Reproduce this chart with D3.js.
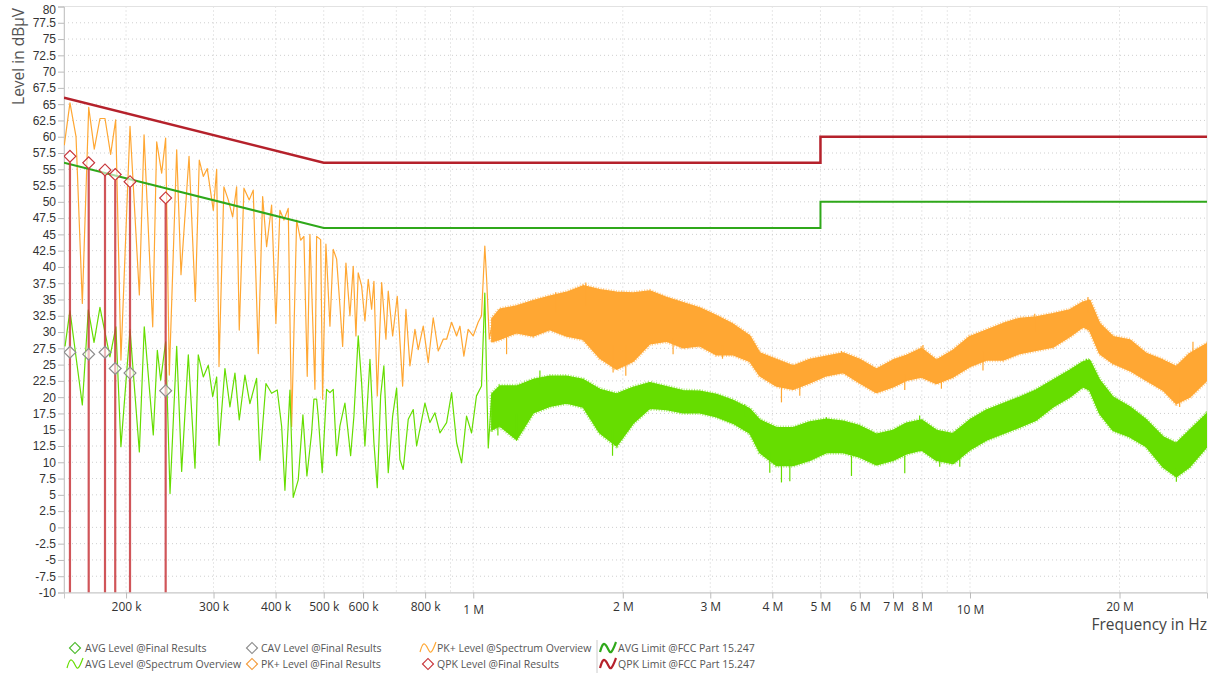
<!DOCTYPE html>
<html>
<head>
<meta charset="utf-8">
<script src="https://cdn.jsdelivr.net/npm/d3@7/dist/d3.min.js"></script>
<style>
body { margin: 0; background: #fff; }
.chart text { font-family: "Open Sans", sans-serif; }
.tick line { stroke: #bbb; }
.domain { stroke: #c8c8c8; }
</style>
</head>
<body>
<div class="chart"></div>
<script>
// ---- data (frequency in kHz, level in dBuV) ----

// tick / grid values
var xTickValues = [200, 300, 400, 500, 600, 800, 1000, 2000, 3000, 4000, 5000, 6000, 7000, 8000, 10000, 20000];
var xGridValues = [200, 300, 400, 500, 600, 700, 800, 900, 1000, 2000, 3000, 4000, 5000, 6000, 7000, 8000, 9000, 10000, 20000];
var yTickValues = d3.range(-10, 80.01, 2.5);

// limits FCC Part 15.247
var limitFreq = [150, 500, 5000, 5000, 30000];
var qpkLimit = [66, 56, 56, 60, 60];
var avgLimit = [56, 46, 46, 50, 50];

// PK+ spectrum overview, low frequency part (single trace)
var pkLineFreq = [150.2, 154.2, 158.6, 163.3, 168.2, 172.6, 177.2, 181.4, 186.2, 190.6, 195.3, 203.7, 212.7, 217.4, 226.3, 230.5, 235.9, 240.3, 244.4, 252.9,
  258.0, 267.8, 275.7, 280.8, 286.1, 291.4, 299.7, 304.4, 307.7, 314.8, 321.2, 327.8, 333.9, 338.0, 345.4, 354.0, 360.6, 369.1, 376.7, 383.7,
  392.7, 400.6, 408.1, 415.8, 424.1, 430.9, 441.0, 449.2, 456.1, 463.2, 469.0, 480.0, 483.8, 492.9, 497.4, 505.1, 514.6, 522.5, 530.8, 539.0,
  545.8, 554.2, 564.6, 573.3, 580.5, 586.7, 596.0, 605.2, 614.6, 624.3, 631.0, 640.8, 654.0, 667.1, 674.3, 688.2, 703.0, 714.2, 720.8, 731.9,
  745.6, 763.1, 774.8, 793.0, 811.6, 830.6, 850.1, 870.0, 883.8, 904.5, 925.7, 940.0, 957.4, 976.6, 999.5, 1023, 1039, 1055, 1064, 1077,
  1090];
var pkLineLevel = [58.7, 65.2, 60.0, 34.4, 64.5, 58.1, 62.8, 62.8, 57.3, 62.6, 25.7, 61.6, 35.7, 60.3, 30.8, 59.2, 54.4, 59.8, 23.4, 58.0,
  38.8, 57.0, 34.7, 56.4, 53.9, 55.1, 48.7, 55.0, 24.7, 52.3, 50.3, 47.7, 52.3, 30.3, 52.1, 50.3, 51.8, 26.7, 50.8, 43.1,
  49.5, 31.3, 48.7, 47.2, 49.0, 15.5, 47.2, 44.1, 44.7, 23.2, 45.0, 21.2, 44.7, 44.2, 19.7, 43.5, 30.9, 42.7, 41.2, 34.0,
  27.8, 40.6, 32.5, 40.1, 29.4, 39.1, 37.1, 31.7, 38.1, 33.5, 37.8, 20.2, 37.6, 28.9, 36.3, 29.4, 35.5, 26.8, 21.7, 33.5,
  24.8, 30.4, 27.3, 30.9, 25.3, 32.2, 27.1, 28.9, 28.9, 31.5, 29.4, 30.9, 26.3, 30.4, 29.4, 31.5, 32.5, 43.2, 38.1, 28.9,
  31.0];

// AVG spectrum overview, low frequency part (single trace)
var avgLineFreq = [150.7, 154.2, 163.3, 167.9, 172.4, 177.2, 185.6, 190.8, 195.3, 203.7, 212.7, 217.6, 226.9, 231.2, 234.8, 240.3, 245.2, 252.9, 258.8, 266.9,
  275.3, 279.5, 286.1, 292.8, 298.8, 304.4, 307.7, 316.3, 323.7, 331.3, 338.0, 347.0, 355.1, 366.3, 372.0, 382.5, 392.7, 403.1, 411.4, 417.7,
  427.5, 434.1, 444.3, 454.0, 462.5, 472.7, 477.8, 483.8, 487.4, 496.5, 506.7, 514.6, 522.5, 530.8, 539.0, 551.6, 566.4, 575.1, 586.7, 596.0,
  605.2, 619.5, 631.0, 640.8, 650.9, 660.8, 674.3, 688.2, 701.0, 711.8, 722.8, 739.8, 757.1, 769.1, 799.3, 818.0, 837.2, 856.8, 883.8, 904.5,
  925.7, 947.4, 969.4, 992.2, 1015, 1039, 1055, 1064, 1072, 1089];
var avgLineLevel = [27.8, 33.3, 18.8, 33.4, 28.4, 33.8, 26.2, 30.8, 12.4, 30.4, 11.6, 30.8, 14.2, 27.2, 22.6, 28.5, 5.2, 27.8, 8.6, 26.5,
  9.1, 26.5, 23.1, 24.9, 20.1, 23.1, 12.6, 24.4, 18.5, 23.7, 16.5, 23.4, 19.0, 22.9, 10.3, 22.1, 20.6, 21.1, 15.5, 5.7,
  21.1, 4.6, 7.3, 17.3, 7.9, 14.5, 19.7, 19.7, 17.1, 8.4, 21.2, 20.7, 21.2, 11.0, 15.6, 19.1, 11.0, 17.1, 29.4, 22.2,
  12.5, 25.8, 13.0, 6.1, 20.2, 24.8, 8.4, 17.1, 21.4, 10.4, 8.9, 16.6, 18.1, 12.5, 19.1, 16.1, 17.6, 14.5, 16.1, 20.7,
  13.0, 9.9, 17.1, 14.5, 20.2, 21.7, 36.0, 22.7, 12.2, 20.2];

// dense part of both overviews, read as upper / lower envelope
var bandFreq = [1090, 1131, 1222, 1320, 1426, 1541, 1664, 1798, 1943, 2098, 2267, 2449, 2645, 2858, 3088, 3335, 3603, 3774, 4078, 4404, 4758,
  5140, 5553, 5998, 6481, 7001, 7448, 7983, 8559, 9244, 9987, 10790, 11650, 12590, 13600, 14690, 15870, 16880, 17410, 18240, 19400,
  20970, 22650, 24460, 26030, 27680, 30000];
var pkBandHigh = [32.0, 33.5, 34.0, 34.8, 35.5, 36.1, 37.1, 36.5, 36.1, 36.0, 36.3, 35.3, 34.5, 33.7, 32.5, 31.2, 29.4, 26.8, 25.8, 24.8, 25.8,
  26.3, 26.8, 25.8, 24.3, 25.7, 26.4, 27.5, 25.7, 27.2, 29.3, 30.3, 31.3, 32.1, 32.3, 32.8, 33.4, 34.6, 34.9, 31.3, 29.3,
  28.8, 26.7, 25.7, 24.7, 26.7, 28.2];
var pkBandLow = [28.5, 28.9, 29.9, 29.4, 30.4, 29.4, 28.9, 26.0, 24.3, 25.5, 28.2, 28.6, 27.6, 27.9, 26.5, 26.5, 25.5, 23.3, 21.7, 21.2, 22.2,
  23.3, 23.8, 22.2, 20.7, 21.6, 22.6, 23.1, 22.1, 23.1, 24.7, 25.7, 25.7, 26.7, 27.2, 27.7, 29.3, 30.8, 30.3, 26.7, 25.2,
  24.1, 22.6, 21.1, 19.0, 20.0, 22.6];
var avgBandHigh = [20.5, 21.7, 21.7, 22.7, 23.2, 23.2, 22.7, 21.2, 20.5, 21.5, 22.2, 21.6, 21.0, 20.9, 20.4, 19.5, 18.2, 16.5, 15.3, 15.3, 16.2,
  16.6, 16.3, 15.6, 14.3, 14.9, 16.0, 16.5, 14.9, 14.4, 16.5, 18.0, 19.0, 20.0, 21.1, 22.6, 24.1, 25.4, 25.7, 22.6, 20.0,
  18.5, 16.5, 13.9, 12.9, 14.9, 17.5];
var avgBandLow = [15.0, 15.6, 13.5, 17.6, 18.6, 19.1, 18.5, 14.5, 12.5, 16.0, 18.3, 18.1, 17.6, 17.6, 17.0, 16.0, 14.5, 11.5, 9.5, 9.5, 10.3,
  11.5, 11.5, 10.8, 9.6, 10.3, 11.3, 11.9, 10.3, 9.8, 11.9, 13.4, 14.4, 15.4, 16.5, 18.5, 20.0, 21.6, 21.1, 17.5, 14.9,
  13.9, 12.4, 9.3, 7.8, 9.3, 12.4];

// single spikes sticking out of the dense part (start level -> tip level)
var pkSpikeFreq = [1167, 1466, 1685, 1912, 2028, 2525, 3175, 4173, 4543, 5512, 7390, 8042, 8759, 10620, 13500, 17280, 26430, 28110];
var pkSpikeBase = [29.5, 33.0, 34.0, 28.0, 28.0, 29.0, 28.0, 22.5, 22.5, 25.0, 23.5, 26.0, 24.0, 27.0, 30.0, 33.0, 21.5, 26.0];
var pkSpikeTip = [26.6, 36.1, 37.6, 23.8, 23.3, 26.6, 25.9, 19.2, 20.2, 27.1, 21.1, 28.0, 21.3, 24.1, 32.8, 35.4, 18.5, 28.5];
var avgSpikeFreq = [1121, 1222, 1362, 1907, 3521, 3953, 4173, 4338, 5140, 5773, 7390, 7920, 8690, 9537, 17150, 26030];
var avgSpikeBase = [18.0, 17.5, 22.0, 15.0, 17.0, 11.5, 10.5, 10.5, 15.0, 11.0, 11.0, 15.5, 11.0, 11.5, 24.0, 9.0];
var avgSpikeTip = [14.1, 13.3, 24.1, 11.0, 18.9, 8.4, 6.9, 7.1, 16.9, 7.9, 8.3, 17.2, 9.3, 9.3, 25.9, 7.0];

// final results
var finalFreq = [154.2, 168.2, 181.4, 190.2, 203.7, 240.3];
var qpkFinal = [57.0, 56.0, 54.9, 54.2, 53.1, 50.6];
var cavFinal = [26.9, 26.6, 26.9, 24.4, 23.7, 21.0];

// legend
var legendCol1 = ["AVG Level @Final Results", "AVG Level @Spectrum Overview"];
var legendCol2 = ["CAV Level @Final Results", "PK+ Level @Final Results"];
var legendCol3 = ["PK+ Level @Spectrum Overview", "QPK Level @Final Results"];
var legendCol4 = ["AVG Limit @FCC Part 15.247", "QPK Limit @FCC Part 15.247"];

// ---- chart ----
var svgWidth = 1215;
var svgHeight = 677;
var margin = {top: 6.5, right: 8, bottom: 84.5, left: 64};
var width = svgWidth - margin.left - margin.right;
var height = svgHeight - margin.top - margin.bottom;

var colPK = "#ffa733", colAVG = "#66dd00", colQPKLim = "#b5212b", colAVGLim = "#2fa81a";
var colQPK = "#c8373c", colCAV = "#8c8c8c";

var svg = d3.select(".chart")
  .append("svg")
  .attr("width", svgWidth)
  .attr("height", svgHeight);

var chart = svg.append("g")
  .attr("transform", "translate(" + margin.left + "," + margin.top + ")");

var x = d3.scaleLog().domain([150, 30000]).range([0, width]);
var y = d3.scaleLinear().domain([-10, 80]).range([height, 0]);

// grid
chart.append("g").selectAll("line")
  .data(yTickValues)
  .enter().append("line")
  .attr("x1", 0).attr("x2", width)
  .attr("y1", function(d) { return y(d); })
  .attr("y2", function(d) { return y(d); })
  .attr("stroke", "#cfcfcf")
  .attr("stroke-dasharray", "1,3");

chart.append("g").selectAll("line")
  .data(xGridValues)
  .enter().append("line")
  .attr("y1", 0).attr("y2", height)
  .attr("x1", function(d) { return x(d); })
  .attr("x2", function(d) { return x(d); })
  .attr("stroke", "#cfcfcf")
  .attr("stroke-dasharray", "1,3");

chart.append("rect")
  .attr("width", width).attr("height", height)
  .attr("fill", "none").attr("stroke", "#e2e2e2");

// axes
var bottomAxis = d3.axisBottom(x)
  .tickValues(xTickValues)
  .tickSize(6)
  .tickPadding(4)
  .tickFormat(function(d) { return d < 1000 ? d + " k" : (d / 1000) + " M"; });

var gx = chart.append("g")
  .attr("transform", "translate(0," + height + ")")
  .call(bottomAxis);
gx.selectAll("text")
  .attr("font-size", 12)
  .attr("fill", "#333")
  .attr("dy", function(d) { return (d === 1000 || d === 10000) ? "0.95em" : "0.71em"; });

var leftAxis = d3.axisLeft(y)
  .tickValues(yTickValues)
  .tickSize(6)
  .tickPadding(2)
  .tickFormat(function(d) { return String(d); });

var gy = chart.append("g").call(leftAxis);
gy.selectAll("text")
  .style("font-family", "'Liberation Sans', Arial, sans-serif")
  .attr("font-size", 12)
  .attr("fill", "#333")
  .attr("dy", function(d) { return d === 80 ? "0.62em" : "0.32em"; });

// axis titles
svg.append("text")
  .attr("transform", "translate(24,8) rotate(-90)")
  .attr("text-anchor", "end")
  .attr("font-size", 15.5)
  .attr("fill", "#555")
  .text("Level in dBµV");

svg.append("text")
  .attr("x", margin.left + width)
  .attr("y", 630)
  .attr("text-anchor", "end")
  .attr("font-size", 15.5)
  .attr("fill", "#444")
  .text("Frequency in Hz");

// clip traces to plot
svg.append("defs").append("clipPath").attr("id", "plotclip")
  .append("rect").attr("width", width).attr("height", height);
var plot = chart.append("g").attr("clip-path", "url(#plotclip)");

var line = d3.line()
  .x(function(d) { return x(d.f); })
  .y(function(d) { return y(d.v); });

var area = d3.area()
  .x(function(d) { return x(d.f); })
  .y0(function(d) { return y(d.lo); })
  .y1(function(d) { return y(d.hi); });

function pairs(fs, vs) {
  return fs.map(function(f, i) { return {f: f, v: vs[i]}; });
}
function band(fs, hi, lo) {
  return fs.map(function(f, i) { return {f: f, hi: hi[i], lo: lo[i]}; });
}

function drawOverview(color, lineF, lineV, hi, lo, spF, spB, spT) {
  var g = plot.append("g");
  // comb-like halo so the dense noisy edges are not razor sharp
  g.append("path")
    .datum(band(bandFreq, hi, lo))
    .attr("d", area)
    .attr("fill", "none")
    .attr("stroke", color)
    .attr("stroke-opacity", 0.55)
    .attr("stroke-width", 4.5)
    .attr("stroke-dasharray", "1,1.6")
    .attr("stroke-linejoin", "round");
  g.append("path")
    .datum(band(bandFreq, hi, lo))
    .attr("d", area)
    .attr("fill", color)
    .attr("stroke", color)
    .attr("stroke-width", 1.5)
    .attr("stroke-linejoin", "round");
  g.selectAll(".spike")
    .data(spF.map(function(f, i) { return {f: f, b: spB[i], t: spT[i]}; }))
    .enter().append("line")
    .attr("x1", function(d) { return x(d.f); })
    .attr("x2", function(d) { return x(d.f); })
    .attr("y1", function(d) { return y(d.b); })
    .attr("y2", function(d) { return y(d.t); })
    .attr("stroke", color)
    .attr("stroke-width", 1.2);
  g.append("path")
    .datum(pairs(lineF, lineV))
    .attr("d", line)
    .attr("fill", "none")
    .attr("stroke", color)
    .attr("stroke-width", 1.2)
    .attr("stroke-linejoin", "round");
}

drawOverview(colPK, pkLineFreq, pkLineLevel, pkBandHigh, pkBandLow, pkSpikeFreq, pkSpikeBase, pkSpikeTip);
drawOverview(colAVG, avgLineFreq, avgLineLevel, avgBandHigh, avgBandLow, avgSpikeFreq, avgSpikeBase, avgSpikeTip);

// limits
plot.append("path")
  .datum(pairs(limitFreq, avgLimit))
  .attr("d", line)
  .attr("fill", "none")
  .attr("stroke", colAVGLim)
  .attr("stroke-width", 2);
plot.append("path")
  .datum(pairs(limitFreq, qpkLimit))
  .attr("d", line)
  .attr("fill", "none")
  .attr("stroke", colQPKLim)
  .attr("stroke-width", 2.5);

// final result stems
plot.selectAll(".stem")
  .data(pairs(finalFreq, qpkFinal))
  .enter().append("line")
  .attr("class", "stem")
  .attr("x1", function(d) { return x(d.f); })
  .attr("x2", function(d) { return x(d.f); })
  .attr("y1", function(d) { return y(d.v) + 6; })
  .attr("y2", height)
  .attr("stroke", colQPK)
  .attr("stroke-opacity", 0.85)
  .attr("stroke-width", 2.2);

var diamond = d3.symbol().type(d3.symbolSquare).size(70);

function markers(data, color) {
  plot.append("g").selectAll("path")
    .data(data)
    .enter().append("path")
    .attr("d", diamond)
    .attr("transform", function(d) { return "translate(" + x(d.f) + "," + y(d.v) + ") rotate(45)"; })
    .attr("fill", "#fff")
    .attr("fill-opacity", 0.6)
    .attr("stroke", color)
    .attr("stroke-width", 1.2);
}
markers(pairs(finalFreq, cavFinal), colCAV);
markers(pairs(finalFreq, qpkFinal), colQPK);

// ---- legend ----
var legend = svg.append("g");
var rowY = [648, 664];
var wave = d3.line().curve(d3.curveBasis);
var wavePts = [[-8, 4], [-5, -6], [-1, -2], [2, 6], [5, 2], [8, -6]];

function legendItem(cx, tx, ry, label, kind, color, thick) {
  if (kind === "diamond") {
    legend.append("path")
      .attr("d", d3.symbol().type(d3.symbolSquare).size(60)())
      .attr("transform", "translate(" + cx + "," + ry + ") rotate(45)")
      .attr("fill", "none")
      .attr("stroke", color)
      .attr("stroke-width", 1.2);
  } else {
    legend.append("path")
      .attr("d", wave(wavePts))
      .attr("transform", "translate(" + cx + "," + ry + ")")
      .attr("fill", "none")
      .attr("stroke", color)
      .attr("stroke-width", thick ? 2.2 : 1.2);
  }
  legend.append("text")
    .attr("x", tx)
    .attr("y", ry)
    .attr("dy", "0.35em")
    .attr("font-size", 10.5)
    .attr("fill", "#555")
    .text(label);
}

legendItem(75, 85, rowY[0], legendCol1[0], "diamond", "#4cbb2c");
legendItem(75, 85, rowY[1], legendCol1[1], "wave", colAVG);
legendItem(252, 261, rowY[0], legendCol2[0], "diamond", colCAV);
legendItem(252, 261, rowY[1], legendCol2[1], "diamond", "#f39c3c");
legendItem(428, 437, rowY[0], legendCol3[0], "wave", colPK);
legendItem(428, 437, rowY[1], legendCol3[1], "diamond", colQPK);
legendItem(608, 618, rowY[0], legendCol4[0], "wave", colAVGLim, true);
legendItem(608, 618, rowY[1], legendCol4[1], "wave", colQPKLim, true);

legend.append("line")
  .attr("x1", 597).attr("x2", 597)
  .attr("y1", 640).attr("y2", 673)
  .attr("stroke", "#ccc");
</script>
</body>
</html>
